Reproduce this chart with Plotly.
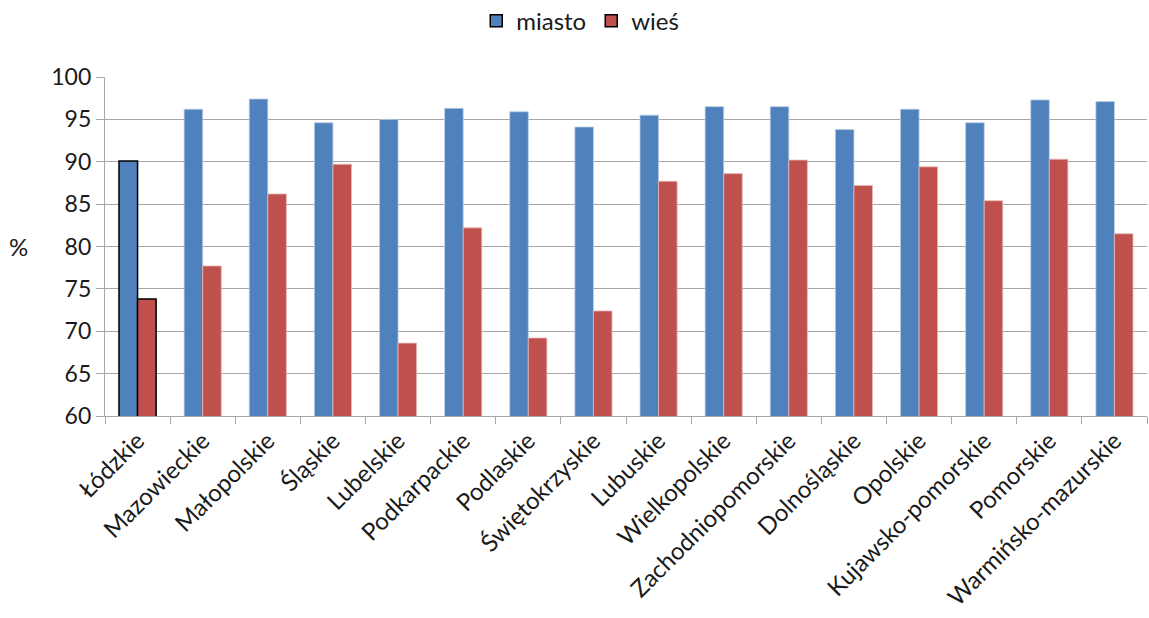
import plotly.graph_objects as go

regions = ["Łódzkie", "Mazowieckie", "Małopolskie", "Śląskie", "Lubelskie",
           "Podkarpackie", "Podlaskie", "Świętokrzyskie", "Lubuskie",
           "Wielkopolskie", "Zachodniopomorskie", "Dolnośląskie", "Opolskie",
           "Kujawsko-pomorskie", "Pomorskie", "Warmińsko-mazurskie"]
miasto = [90.1, 96.2, 97.4, 94.6, 95.0, 96.3, 95.9, 94.1, 95.5, 96.5,
          96.5, 93.8, 96.2, 94.6, 97.3, 97.1]
wies = [73.8, 77.7, 86.2, 89.7, 68.6, 82.2, 69.2, 72.4, 87.7, 88.6,
        90.2, 87.2, 89.4, 85.4, 90.3, 81.5]
y_ticks = [60, 65, 70, 75, 80, 85, 90, 95, 100]

BLUE = "#4F81BD"
RED = "#C0504D"
FONT = "Lato"
SIZE = 24

# first region highlighted with a dark outline
blue_lines = ["#000000"] + ["#B9CDE5"] * (len(regions) - 1)
red_lines = ["#000000"] + ["#E6B9B8"] * (len(regions) - 1)
line_widths = [1.5] + [0.8] * (len(regions) - 1)

fig = go.Figure()
fig.add_trace(go.Bar(name="miasto", x=regions, y=miasto,
                     marker=dict(color=BLUE, line=dict(color=blue_lines, width=line_widths))))
fig.add_trace(go.Bar(name="wieś", x=regions, y=wies,
                     marker=dict(color=RED, line=dict(color=red_lines, width=line_widths))))

fig.update_layout(
    width=1149, height=618,
    barmode="group", bargap=0.43, bargroupgap=0,
    plot_bgcolor="white", paper_bgcolor="white",
    margin=dict(l=105, r=2, t=77, b=202, autoexpand=False),
    font=dict(family=FONT, size=SIZE, color="#1a1a1a"),
    legend=dict(orientation="h", xref="container", yref="paper",
                x=0.505, y=1.165, xanchor="center", yanchor="middle",
                font=dict(size=SIZE), itemwidth=30, traceorder="normal"),
    showlegend=True,
)
fig.update_yaxes(range=[60, 100], tickvals=y_ticks, showgrid=True,
                 gridcolor="#A6A6A6", gridwidth=1.3, showline=True,
                 linecolor="#A6A6A6", linewidth=1.3, ticks="outside",
                 ticklen=8, tickcolor="#A6A6A6", zeroline=False,
                 tickfont=dict(size=SIZE - 1), automargin=False)
fig.update_xaxes(showline=True, linecolor="#A6A6A6", linewidth=1.3,
                 ticks="outside", tickson="boundaries", ticklen=7,
                 tickcolor="#A6A6A6", tickangle=-45, automargin=False,
                 tickfont=dict(size=SIZE), range=[-0.5, len(regions) - 0.5])

fig.add_annotation(text="%", xref="paper", yref="paper", x=-0.083, y=0.5,
                   xanchor="center", yanchor="middle", showarrow=False,
                   font=dict(size=SIZE, family=FONT))

fig.write_html("out.html")
